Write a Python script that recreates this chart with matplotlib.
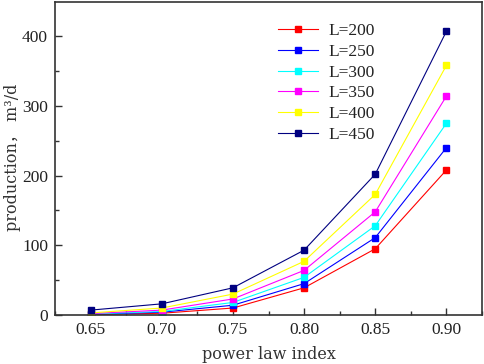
import matplotlib
matplotlib.use("Agg")
import matplotlib.pyplot as plt
from matplotlib.ticker import MultipleLocator, FormatStrFormatter

x = [0.65, 0.70, 0.75, 0.80, 0.85, 0.90]
labels = ["L=200", "L=250", "L=300", "L=350", "L=400", "L=450"]
L200 = [0.5, 2.5, 10, 39, 95, 208]
L250 = [1, 4, 14, 45, 111, 240]
L300 = [1.5, 5, 18, 54, 128, 275]
L350 = [2, 7, 23, 64, 148, 314]
L400 = [3, 10, 30, 77, 173, 358]
L450 = [7, 16, 39, 93, 202, 407]
series = [L200, L250, L300, L350, L400, L450]
colors = ["#ff0000", "#0000ff", "#00ffff", "#ff00ff", "#ffff00", "#000080"]

plt.rcParams['font.family'] = ['Liberation Serif', 'Noto Sans CJK SC']
fig = plt.figure(figsize=(4.84, 3.64), dpi=100)
ax = fig.add_axes([55/484, 1-315/364, (482-55)/484, (315-2)/364])

for s, c, lab in zip(series, colors, labels):
    ax.plot(x, s, color=c, lw=0.8, marker='s', markersize=5, label=lab)

ax.set_xlim(0.625, 0.925)
ax.set_ylim(0, 449)
ax.xaxis.set_major_locator(MultipleLocator(0.05))
ax.xaxis.set_minor_locator(MultipleLocator(0.025))
ax.yaxis.set_major_locator(MultipleLocator(100))
ax.yaxis.set_minor_locator(MultipleLocator(50))
ax.xaxis.set_major_formatter(FormatStrFormatter('%.2f'))
ax.tick_params(which='both', direction='in', top=False, right=False,
               labelsize=12.5, colors='#333333', labelcolor='#222222')
ax.tick_params(which='major', length=5, width=1, pad=5)
ax.tick_params(which='minor', length=3, width=1)
for sp in ax.spines.values():
    sp.set_linewidth(1.2)
    sp.set_color('#333333')

lab_font = ['DejaVu Serif', 'Noto Sans CJK SC']
ax.set_xlabel('power law index', fontsize=11.5, color='#333333', fontfamily=lab_font)
ax.xaxis.set_label_coords(0.5, -(346 - 315) / 313)
ax.set_ylabel('production\uff0c m\u00b3/d', fontsize=11.5, color='#333333',
              fontfamily=lab_font)
ax.yaxis.set_label_coords((21 - 55) / 427, 0.505)

ax.legend(loc='upper left', bbox_to_anchor=(0.485, 0.982), frameon=False,
          fontsize=12.5, handlelength=2.3, labelspacing=0.26, handletextpad=0.6,
          labelcolor='#222222')

fig.savefig('out.png', dpi=100)
